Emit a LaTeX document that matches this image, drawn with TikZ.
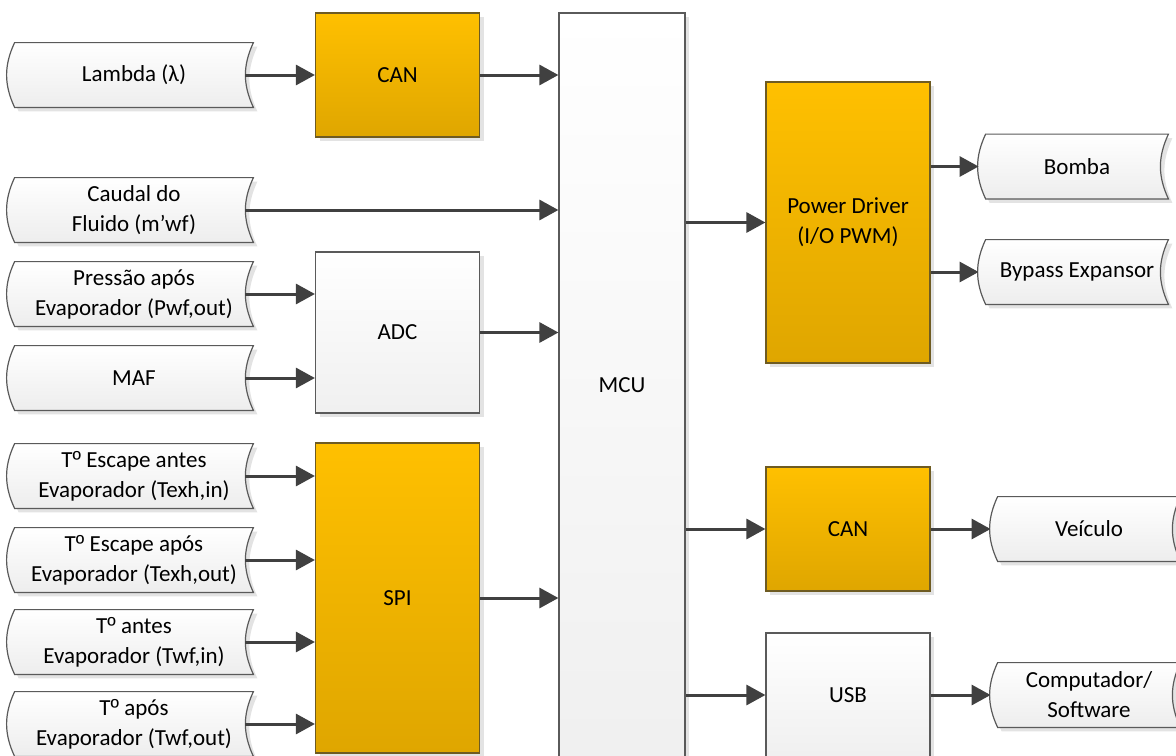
\documentclass[tikz,border=0pt]{standalone}
\usepackage{fontspec}
\setmainfont{Carlito}
\newfontfamily\ordfont{Liberation Sans}
\usepackage{tikz}
\usetikzlibrary{positioning, shapes, arrows.meta, shadows, backgrounds}
\definecolor{laranjaTopo}{HTML}{FFC000}
\definecolor{laranjaBase}{HTML}{DFA600}
\definecolor{bordaLaranja}{HTML}{6E5B22}
\definecolor{bordaCinza}{HTML}{5A5A5A}
\definecolor{cinzaSeta}{HTML}{404040}
\definecolor{sombraCinza}{HTML}{E3E3E3}

\begin{document}
\begin{tikzpicture}[
  x=0.5pt, y=0.5pt,
  font=\fontsize{11.5}{15}\selectfont,
  seta/.style={-{Triangle[length=9.5pt, width=10pt]}, line width=1.5pt, cinzaSeta},
  bloco/.style={draw=bordaCinza, line width=0.6pt, top color=white, bottom color=black!6,
    inner sep=0pt, align=center,
    drop shadow={fill=sombraCinza, opacity=1, shadow xshift=2pt, shadow yshift=-2pt}},
  blocoL/.style={bloco, draw=bordaLaranja, top color=laranjaTopo, bottom color=laranjaBase},
  dado/.style={minimum width=119pt, minimum height=32pt, inner sep=0pt, align=center},
  dadoD/.style={dado, minimum width=91pt}
]
  \useasboundingbox (0,0) rectangle (1176,-755);

  % --- Sensores (entradas) ---
  \node[dado] (lambda)  at (134,-75)  {Lambda (λ)};
  \node[dado] (caudal)  at (134,-210) {Caudal do\\Fluido (m’wf)};
  \node[dado] (pressao) at (134,-294) {Pressão após\\Evaporador (Pwf,out)};
  \node[dado] (maf)     at (134,-378) {MAF};
  \node[dado] (texhIn)  at (134,-476) {T{\ordfont º} Escape antes\\Evaporador (Texh,in)};
  \node[dado] (texhOut) at (134,-560) {T{\ordfont º} Escape após\\Evaporador (Texh,out)};
  \node[dado] (twfIn)   at (134,-642) {T{\ordfont º} antes\\Evaporador (Twf,in)};
  \node[dado] (twfOut)  at (134,-724) {T{\ordfont º} após\\Evaporador (Twf,out)};

  % --- Interfaces e microcontrolador ---
  \node[blocoL, minimum width=82pt, minimum height=62pt]    (can1) at (397.5,-75)   {CAN};
  \node[bloco,  minimum width=82pt, minimum height=80.5pt]  (adc)  at (397.5,-332.5) {ADC};
  \node[blocoL, minimum width=82pt, minimum height=155pt]   (spi)  at (397.5,-598)  {SPI};
  \node[bloco,  minimum width=63pt, minimum height=372.5pt] (mcu)  at (622,-385.5)  {MCU};
  \node[blocoL, minimum width=82pt, minimum height=140.5pt] (pwr)  at (848,-222.5)  {Power Driver\\(I/O PWM)};
  \node[blocoL, minimum width=82pt, minimum height=62pt]    (can2) at (848,-529)    {CAN};
  \node[bloco,  minimum width=82pt, minimum height=62pt]    (usb)  at (848,-695)    {USB};

  % --- Atuadores (saídas) ---
  \node[dadoD] (bomba)   at (1077,-166.5) {Bomba};
  \node[dadoD] (bypass)  at (1077,-272)   {Bypass Expansor};
  \node[dadoD] (veiculo) at (1089,-529)   {Veículo};
  \node[dadoD] (comp)    at (1089,-695)   {Computador/\\Software};

  % Contorno de dados armazenados (atrás do texto)
  \begin{scope}[on background layer]
    \foreach \n in {lambda,caudal,pressao,maf,texhIn,texhOut,twfIn,twfOut,bomba,bypass,veiculo,comp}{
      \fill[sombraCinza, transform canvas={shift={(2pt,-2pt)}}]
        (\n.north west) to[bend right=25] (\n.south west) -- (\n.south east)
        to[bend left=25] (\n.north east) -- cycle;
      \draw[bordaCinza, line width=0.6pt, top color=white, bottom color=black!7]
        (\n.north west) to[bend right=25] (\n.south west) -- (\n.south east)
        to[bend left=25] (\n.north east) -- cycle;
    }
  \end{scope}

  % --- Ligações ---
  \draw[seta] ([xshift=-4pt]lambda.east) -- (can1.west);
  \draw[seta] (can1.east) -- (can1.east -| mcu.west);
  \draw[seta] ([xshift=-4pt]caudal.east) -- (caudal.east -| mcu.west);
  \foreach \n in {pressao,maf}
    \draw[seta] ([xshift=-4pt]\n.east) -- (\n.east -| adc.west);
  \draw[seta] (adc.east) -- (adc.east -| mcu.west);
  \foreach \n in {texhIn,texhOut,twfIn,twfOut}
    \draw[seta] ([xshift=-4pt]\n.east) -- (\n.east -| spi.west);
  \draw[seta] (spi.east) -- (spi.east -| mcu.west);

  \draw[seta] (mcu.east |- pwr.west)  -- (pwr.west);
  \draw[seta] (mcu.east |- can2.west) -- (can2.west);
  \draw[seta] (mcu.east |- usb.west)  -- (usb.west);
  \draw[seta] (pwr.east |- bomba.west)  -- ([xshift=-3.5pt]bomba.west);
  \draw[seta] (pwr.east |- bypass.west) -- ([xshift=-3.5pt]bypass.west);
  \draw[seta] (can2.east) -- ([xshift=-3.5pt]veiculo.west);
  \draw[seta] (usb.east)  -- ([xshift=-3.5pt]comp.west);

\end{tikzpicture}
\end{document}
